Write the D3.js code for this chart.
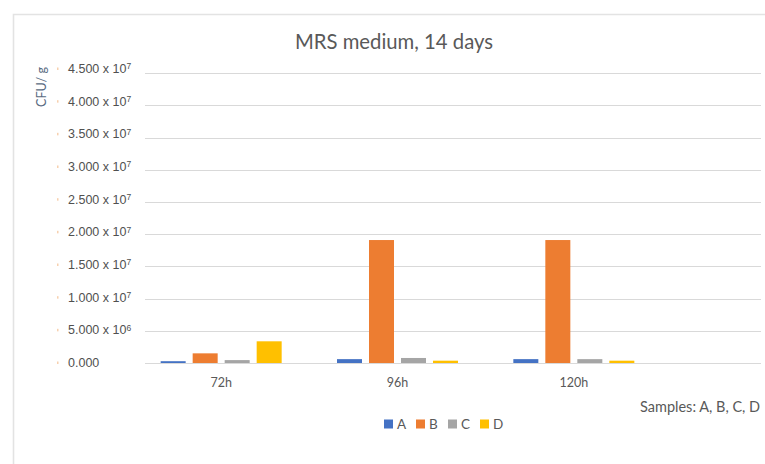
<!DOCTYPE html>
<html>
<head>
<meta charset="utf-8">
<script src="https://cdn.jsdelivr.net/npm/d3@7"></script>
<style>
  body { margin: 0; background: #fff; }
  svg { display: block; font-family: Lato, "Open Sans", sans-serif; }
</style>
</head>
<body>
<svg id="chart"></svg>
<script>
const categories = ['72h', '96h', '120h']
const series = ['A', 'B', 'C', 'D']
const colors = ['#4472C4', '#ED7D31', '#A5A5A5', '#FFC000']
// CFU/g, one array per sample
const valuesA = [0.28e6, 0.6e6, 0.6e6]
const valuesB = [1.5e6, 19.1e6, 19.1e6]
const valuesC = [0.45e6, 0.78e6, 0.6e6]
const valuesD = [3.37e6, 0.36e6, 0.36e6]
const tickValues = [0, 5e6, 1e7, 1.5e7, 2e7, 2.5e7, 3e7, 3.5e7, 4e7, 4.5e7]
const tickMantissa = ['0.000', '5.000', '1.000', '1.500', '2.000', '2.500', '3.000', '3.500', '4.000', '4.500']
const tickExp = ['', '6', '7', '7', '7', '7', '7', '7', '7', '7']

const width = 765
const height = 464

const svg = d3.select('#chart')
  .attr('width', width)
  .attr('height', height)

// chart border (left and top edges visible)
svg.append('path')
  .attr('d', `M13.5,${height} V14.5 H${width}`)
  .attr('fill', 'none')
  .attr('stroke', '#e3e3e3')
  .attr('stroke-width', 1.6)

const y = d3.scaleLinear().domain([0, 4.5e7]).range([363, 73.3])
// the labels sit on a slightly different spacing than the gridlines
const yLabel = d3.scaleLinear().domain([0, 4.5e7]).range([362, 68])

const x = d3.scaleBand().domain(categories).range([133, 662])
const xSub = d3.scaleBand().domain(series)
  .range([x.bandwidth() / 2 - 60.5, x.bandwidth() / 2 + 60.5])
  .paddingInner(7 / 32)

// gridlines
svg.append('g')
  .selectAll('line')
  .data(tickValues)
  .enter()
  .append('line')
  .attr('x1', 145)
  .attr('x2', 761)
  .attr('y1', d => Math.round(y(d)) + 0.5)
  .attr('y2', d => Math.round(y(d)) + 0.5)
  .attr('stroke', '#d9d9d9')
  .attr('stroke-width', 1)

// y axis labels
const yAxis = d3.axisLeft(yLabel).tickValues(tickValues).tickSize(0).tickFormat('')
const yG = svg.append('g')
  .attr('transform', 'translate(68,0)')
  .call(yAxis)
yG.select('.domain').remove()
yG.selectAll('.tick text').each(function (d, i) {
  const t = d3.select(this)
    .attr('x', 0)
    .attr('dy', '0.36em')
    .attr('text-anchor', 'start')
    .attr('fill', '#505050')
    .style('font-size', '12.5px')
  t.append('tspan').text(tickMantissa[i] + (tickExp[i] ? ' x 10' : ''))
  if (tickExp[i]) {
    t.append('tspan').attr('dy', '-0.45em').style('font-size', '8.5px').text(tickExp[i])
  }
})
// faint orange tick marks left of the labels
yG.selectAll('.tick').append('rect')
  .attr('x', -11)
  .attr('y', -1)
  .attr('width', 1.5)
  .attr('height', 2.5)
  .attr('fill', '#f2b27a')
  .attr('opacity', 0.6)

// bars
const data = categories.map((c, i) => ({
  cat: c,
  vals: [valuesA[i], valuesB[i], valuesC[i], valuesD[i]]
}))

const groups = svg.append('g')
  .selectAll('g')
  .data(data)
  .enter()
  .append('g')
  .attr('transform', d => `translate(${x(d.cat)},0)`)

groups.selectAll('rect')
  .data(d => d.vals.map((v, j) => ({ s: series[j], v: v, c: colors[j] })))
  .enter()
  .append('rect')
  .attr('x', d => xSub(d.s))
  .attr('width', xSub.bandwidth())
  .attr('y', d => y(d.v))
  .attr('height', d => y(0) - y(d.v))
  .attr('fill', d => d.c)

// x axis labels
const xAxis = d3.axisBottom(x).tickSize(0)
const xG = svg.append('g')
  .attr('transform', 'translate(0,363)')
  .call(xAxis)
xG.select('.domain').remove()
xG.selectAll('.tick text')
  .attr('y', 19)
  .attr('dy', '0.36em')
  .attr('fill', '#595959')
  .style('font-size', '12.5px')
  .style('font-family', 'Lato, sans-serif')

// title
svg.append('text')
  .attr('x', 394)
  .attr('y', 49)
  .attr('text-anchor', 'middle')
  .attr('fill', '#595959')
  .style('font-size', '20.3px')
  .text('MRS medium, 14 days')

// y axis title
svg.append('text')
  .attr('transform', 'translate(46,87) rotate(-90)')
  .attr('text-anchor', 'middle')
  .attr('fill', '#5a6b82')
  .style('font-size', '12.5px')
  .text('CFU/ g')

// x axis title
svg.append('text')
  .attr('x', 640)
  .attr('y', 412)
  .attr('fill', '#595959')
  .style('font-size', '14.5px')
  .text('Samples: A, B, C, D')

// legend
const legend = svg.append('g')
  .selectAll('g')
  .data(series)
  .enter()
  .append('g')
  .attr('transform', (d, i) => `translate(${384 + i * 32},424)`)

legend.append('rect')
  .attr('x', 0)
  .attr('y', -4.5)
  .attr('width', 9)
  .attr('height', 9)
  .attr('fill', (d, i) => colors[i])

legend.append('text')
  .attr('x', 13)
  .attr('dy', '0.36em')
  .attr('fill', '#595959')
  .style('font-size', '13.5px')
  .text(d => d)
</script>
</body>
</html>
